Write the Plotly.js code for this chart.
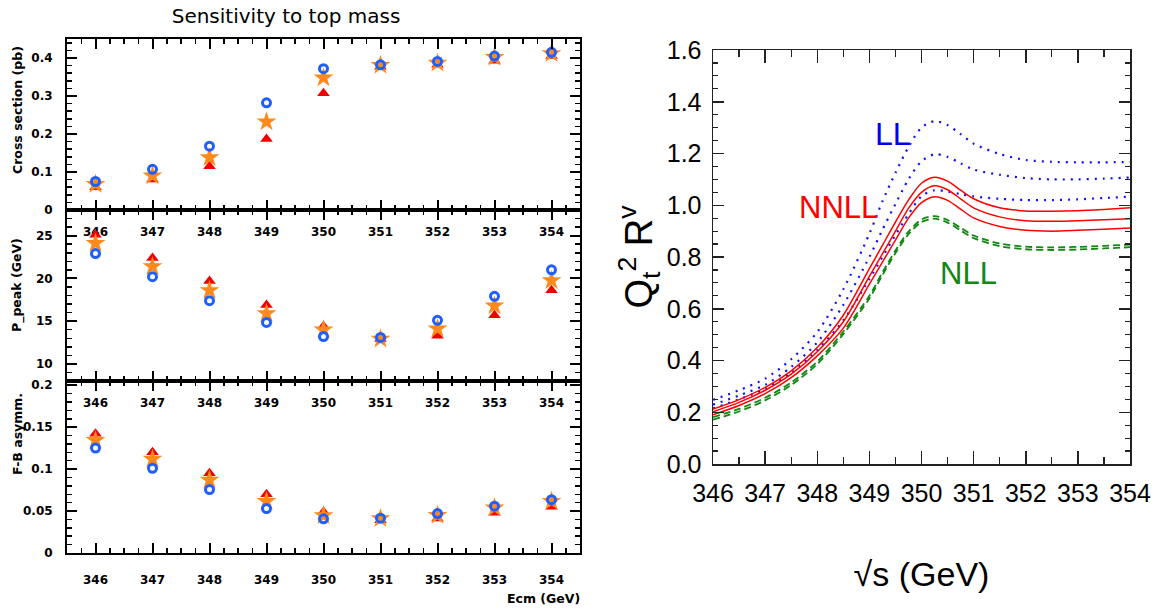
<!DOCTYPE html>
<html>
<head>
<meta charset="utf-8">
<script src="https://cdn.plot.ly/plotly-3.0.1.min.js"></script>
<style>html,body{margin:0;padding:0;background:#fff;}#chart{width:1160px;height:613px;}</style>
</head>
<body>
<div id="chart"></div>
<script>
// ---------- Left: sensitivity to top mass ----------
const ecm = [346, 347, 348, 349, 350, 351, 352, 353, 354];
// cross section (pb)
const xsecCircle   = [0.075, 0.107, 0.168, 0.282, 0.372, 0.382, 0.391, 0.405, 0.415];
const xsecStar     = [0.068, 0.090, 0.138, 0.232, 0.348, 0.381, 0.387, 0.402, 0.412];
const xsecTriangle = [0.060, 0.080, 0.115, 0.187, 0.307, 0.377, 0.382, 0.393, 0.405];
// P_peak (GeV)
const ppeakCircle   = [22.9, 20.2, 17.4, 14.85, 13.2, 13.1, 15.1, 17.9, 21.0];
const ppeakStar     = [24.1, 21.4, 18.6, 15.9, 14.0, 12.9, 14.1, 16.8, 19.75];
const ppeakTriangle = [25.1, 22.4, 19.7, 16.9, 14.4, 12.9, 13.3, 15.7, 18.6];
// F-B asymmetry
const afbCircle   = [0.125, 0.101, 0.0756, 0.053, 0.0407, 0.0415, 0.047, 0.0558, 0.0636];
const afbStar     = [0.1345, 0.112, 0.087, 0.0616, 0.0446, 0.041, 0.045, 0.054, 0.0616];
const afbTriangle = [0.142, 0.120, 0.095, 0.070, 0.049, 0.039, 0.041, 0.048, 0.055];

// ---------- Right: Q_t^2 R^v vs sqrt(s) ----------
const sqrts = [346, 346.5, 347, 347.5, 348, 348.5, 349, 349.25, 349.5, 349.75, 350, 350.25, 350.5, 350.75, 351, 351.5, 352, 352.5, 353, 353.5, 354];
const llTop  = [0.248, 0.285, 0.330, 0.405, 0.510, 0.675, 0.890, 1.015, 1.125, 1.225, 1.300, 1.325, 1.310, 1.275, 1.238, 1.198, 1.175, 1.168, 1.166, 1.166, 1.167];
const llMid  = [0.229, 0.265, 0.306, 0.375, 0.470, 0.615, 0.800, 0.905, 1.005, 1.100, 1.170, 1.197, 1.187, 1.162, 1.138, 1.118, 1.105, 1.100, 1.100, 1.103, 1.107];
const llLow  = [0.215, 0.250, 0.290, 0.352, 0.440, 0.555, 0.715, 0.800, 0.885, 0.965, 1.035, 1.058, 1.053, 1.043, 1.034, 1.025, 1.020, 1.020, 1.023, 1.028, 1.033];
const nnllTop = [0.212, 0.249, 0.296, 0.360, 0.450, 0.575, 0.755, 0.845, 0.935, 1.020, 1.085, 1.108, 1.093, 1.058, 1.025, 0.990, 0.978, 0.977, 0.979, 0.984, 0.990];
const nnllMid = [0.202, 0.238, 0.285, 0.347, 0.434, 0.550, 0.725, 0.812, 0.900, 0.988, 1.050, 1.075, 1.060, 1.025, 0.990, 0.955, 0.940, 0.938, 0.940, 0.944, 0.948];
const nnllLow = [0.190, 0.226, 0.272, 0.334, 0.418, 0.525, 0.695, 0.780, 0.865, 0.950, 1.010, 1.033, 1.019, 0.985, 0.951, 0.918, 0.903, 0.900, 0.903, 0.907, 0.912];
const nllTop = [0.181, 0.213, 0.256, 0.315, 0.396, 0.512, 0.650, 0.740, 0.825, 0.898, 0.945, 0.958, 0.943, 0.913, 0.883, 0.852, 0.840, 0.837, 0.839, 0.843, 0.848];
const nllLow = [0.171, 0.203, 0.246, 0.305, 0.386, 0.502, 0.640, 0.730, 0.815, 0.888, 0.935, 0.948, 0.933, 0.903, 0.873, 0.842, 0.830, 0.827, 0.829, 0.833, 0.838];

const W = 1160, H = 613;
const px = v => v / W;
const py = v => 1 - v / H;

const cBlue = '#1f5eff', cOrange = '#ff8a1c', cRed = '#f00000';
const boldFont = {family: 'DejaVu Sans, Verdana, sans-serif', size: 12, color: '#000', weight: 'bold'};
const narrow = 'Liberation Sans Narrow, Arial Narrow, Liberation Sans, Arial, sans-serif';

function pointTraces(xa, ya, tri, star, circ) {
  return [
    {x: ecm, y: tri, xaxis: xa, yaxis: ya, mode: 'markers', type: 'scatter', showlegend: false,
     marker: {symbol: 'triangle-up', size: 11, color: cRed}},
    {x: ecm, y: star, xaxis: xa, yaxis: ya, mode: 'markers', type: 'scatter', showlegend: false,
     marker: {symbol: 'star', size: 15, color: cOrange}},
    {x: ecm, y: circ, xaxis: xa, yaxis: ya, mode: 'markers', type: 'scatter', showlegend: false,
     marker: {symbol: 'circle-open', size: 8, color: cBlue, line: {width: 3, color: cBlue}}}
  ];
}

function line(y, color, width, dash) {
  return {x: sqrts, y: y, xaxis: 'x4', yaxis: 'y4', mode: 'lines', type: 'scatter', showlegend: false,
          line: {color: color, width: width, dash: dash, shape: 'spline', smoothing: 0.8}};
}

const data = [
  ...pointTraces('x', 'y', xsecTriangle, xsecStar, xsecCircle),
  ...pointTraces('x2', 'y2', ppeakTriangle, ppeakStar, ppeakCircle),
  ...pointTraces('x3', 'y3', afbTriangle, afbStar, afbCircle),
  line(llTop, '#1010ff', 2.2, '2px,6px'),
  line(llMid, '#1010ff', 2.2, '2px,6px'),
  line(llLow, '#1010ff', 2.2, '2px,6px'),
  line(nnllTop, '#ff0000', 1.5, 'solid'),
  line(nnllMid, '#ff0000', 1.5, 'solid'),
  line(nnllLow, '#ff0000', 1.5, 'solid'),
  line(nllTop, '#118811', 1.8, '7px,4px'),
  line(nllLow, '#118811', 1.8, '7px,4px')
];

const leftX = (anchor, standoff) => ({
  domain: [px(67), px(580)], anchor: anchor, range: [345.5, 354.5],
  showline: true, linewidth: 2, linecolor: '#000', mirror: 'allticks',
  ticks: 'inside', ticklen: 10, tickwidth: 2, tickcolor: '#000', dtick: 1, tick0: 346,
  ticklabelstandoff: standoff, tickfont: boldFont, showgrid: false, zeroline: false,
  minor: {ticks: 'inside', ticklen: 5, tickwidth: 1.5, tickcolor: '#000', dtick: 0.25, showgrid: false}
});
const leftY = (anchor, dom, range, dtick, mdtick) => ({
  domain: dom, anchor: anchor, range: range,
  showline: true, linewidth: 2, linecolor: '#000', mirror: 'allticks',
  ticks: 'inside', ticklen: 10, tickwidth: 2, tickcolor: '#000', dtick: dtick, tick0: 0,
  ticklabelstandoff: 10, tickfont: boldFont, showgrid: false, zeroline: false,
  minor: {ticks: 'inside', ticklen: 5, tickwidth: 1.5, tickcolor: '#000', dtick: mdtick, showgrid: false}
});

const layout = {
  width: W, height: H,
  margin: {l: 0, r: 0, t: 0, b: 0},
  paper_bgcolor: '#fff', plot_bgcolor: 'rgba(0,0,0,0)',
  showlegend: false,
  title: {text: 'Sensitivity to top mass', x: px(286), xanchor: 'center', y: py(16), yanchor: 'middle',
          font: {family: 'DejaVu Sans, Verdana, sans-serif', size: 20, color: '#000'}},
  xaxis: leftX('y', 10),
  yaxis: leftY('x', [py(210), py(39)], [0, 0.45], 0.1, 0.02),
  xaxis2: leftX('y2', 10),
  yaxis2: leftY('x2', [py(381), py(210)], [8, 28], 5, 1),
  xaxis3: leftX('y3', 15),
  yaxis3: leftY('x3', [py(553), py(381)], [0, 0.205], 0.05, 0.01),
  xaxis4: {
    domain: [px(713), px(1130)], anchor: 'y4', range: [346, 354],
    showline: true, linewidth: 1.5, linecolor: '#222', mirror: 'allticks',
    ticks: 'inside', ticklen: 13, tickwidth: 1.5, tickcolor: '#222', dtick: 1, tick0: 346,
    ticklabelstandoff: 6, tickfont: {family: narrow, size: 25, color: '#000'},
    showgrid: false, zeroline: false,
    minor: {ticks: 'inside', ticklen: 7, tickwidth: 1.2, tickcolor: '#222', dtick: 0.5, showgrid: false},
    title: {text: '√s (GeV)', font: {family: narrow, size: 34, color: '#000'}, standoff: 56}
  },
  yaxis4: {
    domain: [py(464), py(50)], anchor: 'x4', range: [0, 1.6],
    showline: true, linewidth: 1.5, linecolor: '#222', mirror: 'allticks',
    ticks: 'inside', ticklen: 11, tickwidth: 1.5, tickcolor: '#222', dtick: 0.2, tick0: 0,
    tickformat: '.1f', ticklabelstandoff: 5, tickfont: {family: narrow, size: 25, color: '#000'},
    showgrid: false, zeroline: false,
    minor: {ticks: 'inside', ticklen: 5, tickwidth: 1.2, tickcolor: '#222', dtick: 0.05, showgrid: false},
    title: {text: 'Q<sub>t</sub><sup>2</sup> R<sup>v</sup>', font: {family: narrow, size: 38, color: '#000'}, standoff: 2}
  },
  annotations: [
    {text: 'Cross section (pb)', textangle: -90, xref: 'paper', yref: 'paper', x: px(17), y: py(110),
     xanchor: 'center', yanchor: 'middle', showarrow: false, font: Object.assign({}, boldFont, {size: 12.5})},
    {text: 'P_peak (GeV)', textangle: -90, xref: 'paper', yref: 'paper', x: px(17), y: py(285),
     xanchor: 'center', yanchor: 'middle', showarrow: false, font: Object.assign({}, boldFont, {size: 12.5})},
    {text: 'F-B asymm.', textangle: -90, xref: 'paper', yref: 'paper', x: px(17), y: py(434),
     xanchor: 'center', yanchor: 'middle', showarrow: false, font: Object.assign({}, boldFont, {size: 12.5})},
    {text: 'Ecm (GeV)', xref: 'paper', yref: 'paper', x: px(582), y: py(598),
     xanchor: 'right', yanchor: 'middle', showarrow: false, font: Object.assign({}, boldFont, {size: 12.5})},
    {text: 'LL', xref: 'x4', yref: 'y4', x: 349.45, y: 1.275, xanchor: 'center', yanchor: 'middle',
     showarrow: false, font: {family: narrow, size: 32, color: '#0000ee'}},
    {text: 'NNLL', xref: 'x4', yref: 'y4', x: 348.4, y: 0.99, xanchor: 'center', yanchor: 'middle',
     showarrow: false, font: {family: narrow, size: 31, color: '#ff0000'}},
    {text: 'NLL', xref: 'x4', yref: 'y4', x: 350.9, y: 0.735, xanchor: 'center', yanchor: 'middle',
     showarrow: false, font: {family: narrow, size: 31, color: '#118811'}}
  ]
};

Plotly.newPlot('chart', data, layout, {staticPlot: true, displayModeBar: false});
</script>
</body>
</html>
